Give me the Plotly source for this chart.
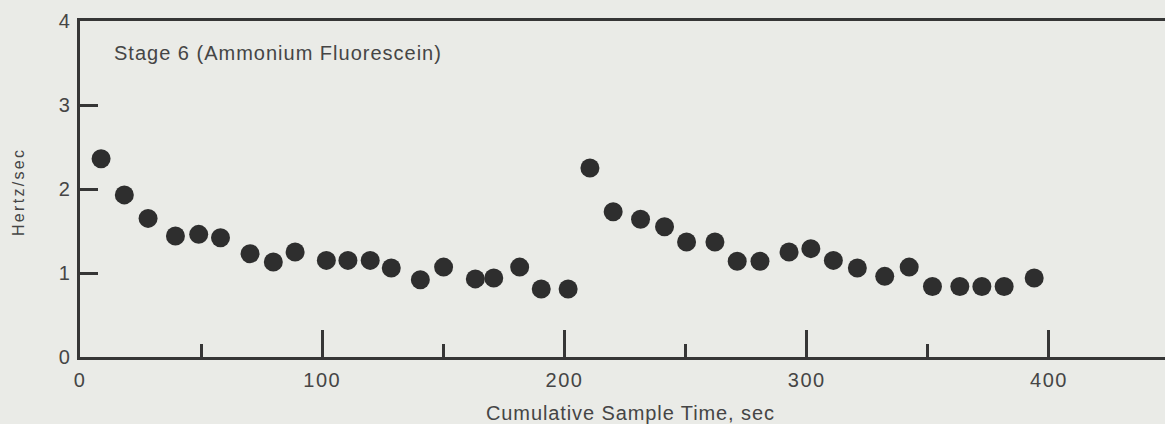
import plotly.graph_objects as go

# Cumulative sample time (sec) and measured rate (Hertz/sec), Stage 6
sample_time = [8.7, 18.3, 28.1, 39.4, 49.0, 58.0, 70.2, 79.8, 88.8, 101.7,
               110.6, 119.8, 128.5, 140.5, 150.1, 163.2, 170.8, 181.5, 190.4, 201.5,
               210.5, 220.1, 231.4, 241.3, 250.4, 262.1, 271.3, 280.7, 292.7, 301.7,
               311.0, 320.9, 332.2, 342.3, 351.9, 363.2, 372.3, 381.5, 393.9]
hertz_per_sec = [2.36, 1.93, 1.65, 1.44, 1.46, 1.42, 1.23, 1.13, 1.25, 1.15,
                 1.15, 1.15, 1.06, 0.92, 1.07, 0.93, 0.94, 1.07, 0.81, 0.81,
                 2.25, 1.73, 1.64, 1.55, 1.37, 1.37, 1.14, 1.14, 1.25, 1.29,
                 1.15, 1.06, 0.96, 1.07, 0.84, 0.84, 0.84, 0.84, 0.94]

x_ticks = [0, 100, 200, 300, 400]
y_ticks = [0, 1, 2, 3, 4]

panel_label = "Stage 6 (Ammonium Fluorescein)"
x_title = "Cumulative Sample Time, sec"
y_title = "Hertz/sec"

PAPER = "#eaebe7"
INK = "#363636"
TEXT = "#454545"
FONT = "Liberation Sans, Arial, Helvetica, sans-serif"


def spaced(s, px=1.0):
    return f'<span style="letter-spacing:{px}px">{s}</span>'


fig = go.Figure()
fig.add_trace(go.Scatter(
    x=sample_time, y=hertz_per_sec, mode="markers",
    marker=dict(size=19, color="#2e2e2e", line=dict(width=0)),
    hoverinfo="x+y", showlegend=False,
))

fig.update_layout(
    width=1165, height=424,
    margin=dict(l=80, r=0, t=21, b=67),
    paper_bgcolor=PAPER, plot_bgcolor=PAPER,
    font=dict(family=FONT, size=20, color=TEXT),
    xaxis=dict(
        range=[0, 447.9], showgrid=False, zeroline=False,
        showline=True, linecolor=INK, linewidth=2.5, mirror=True,
        ticks="inside", ticklen=27, tickwidth=2.5, tickcolor=INK,
        tickvals=x_ticks, ticktext=[spaced(str(v), 1.5) for v in x_ticks],
        ticklabelstandoff=3,
        minor=dict(dtick=50, ticks="inside", ticklen=13, tickwidth=2.5, tickcolor=INK),
    ),
    yaxis=dict(
        range=[0, 4], showgrid=False, zeroline=False,
        showline=True, linecolor=INK, linewidth=2.5,
        ticks="inside", ticklen=18, tickwidth=2.5, tickcolor=INK,
        tickvals=y_ticks, ticktext=[spaced(str(v), 1.5) for v in y_ticks],
        ticklabelstandoff=2,
    ),
    annotations=[
        dict(text=spaced(panel_label, 1.0), xref="paper", yref="paper",
             x=0.0295, y=0.905, xanchor="left", yanchor="middle",
             showarrow=False, font=dict(size=20, color=TEXT)),
        dict(text=spaced(x_title, 0.9), xref="paper", yref="paper",
             x=(630 - 80) / 1085, y=-(413 - 357) / 336, xanchor="center", yanchor="middle",
             showarrow=False, font=dict(size=20, color=TEXT)),
        dict(text=spaced(y_title, 2.3), xref="paper", yref="paper",
             x=-(80 - 18) / 1085, y=(357 - 192) / 336, xanchor="center", yanchor="middle",
             textangle=-90, showarrow=False, font=dict(size=16, color=TEXT)),
    ],
)

fig.write_html("out.html")
